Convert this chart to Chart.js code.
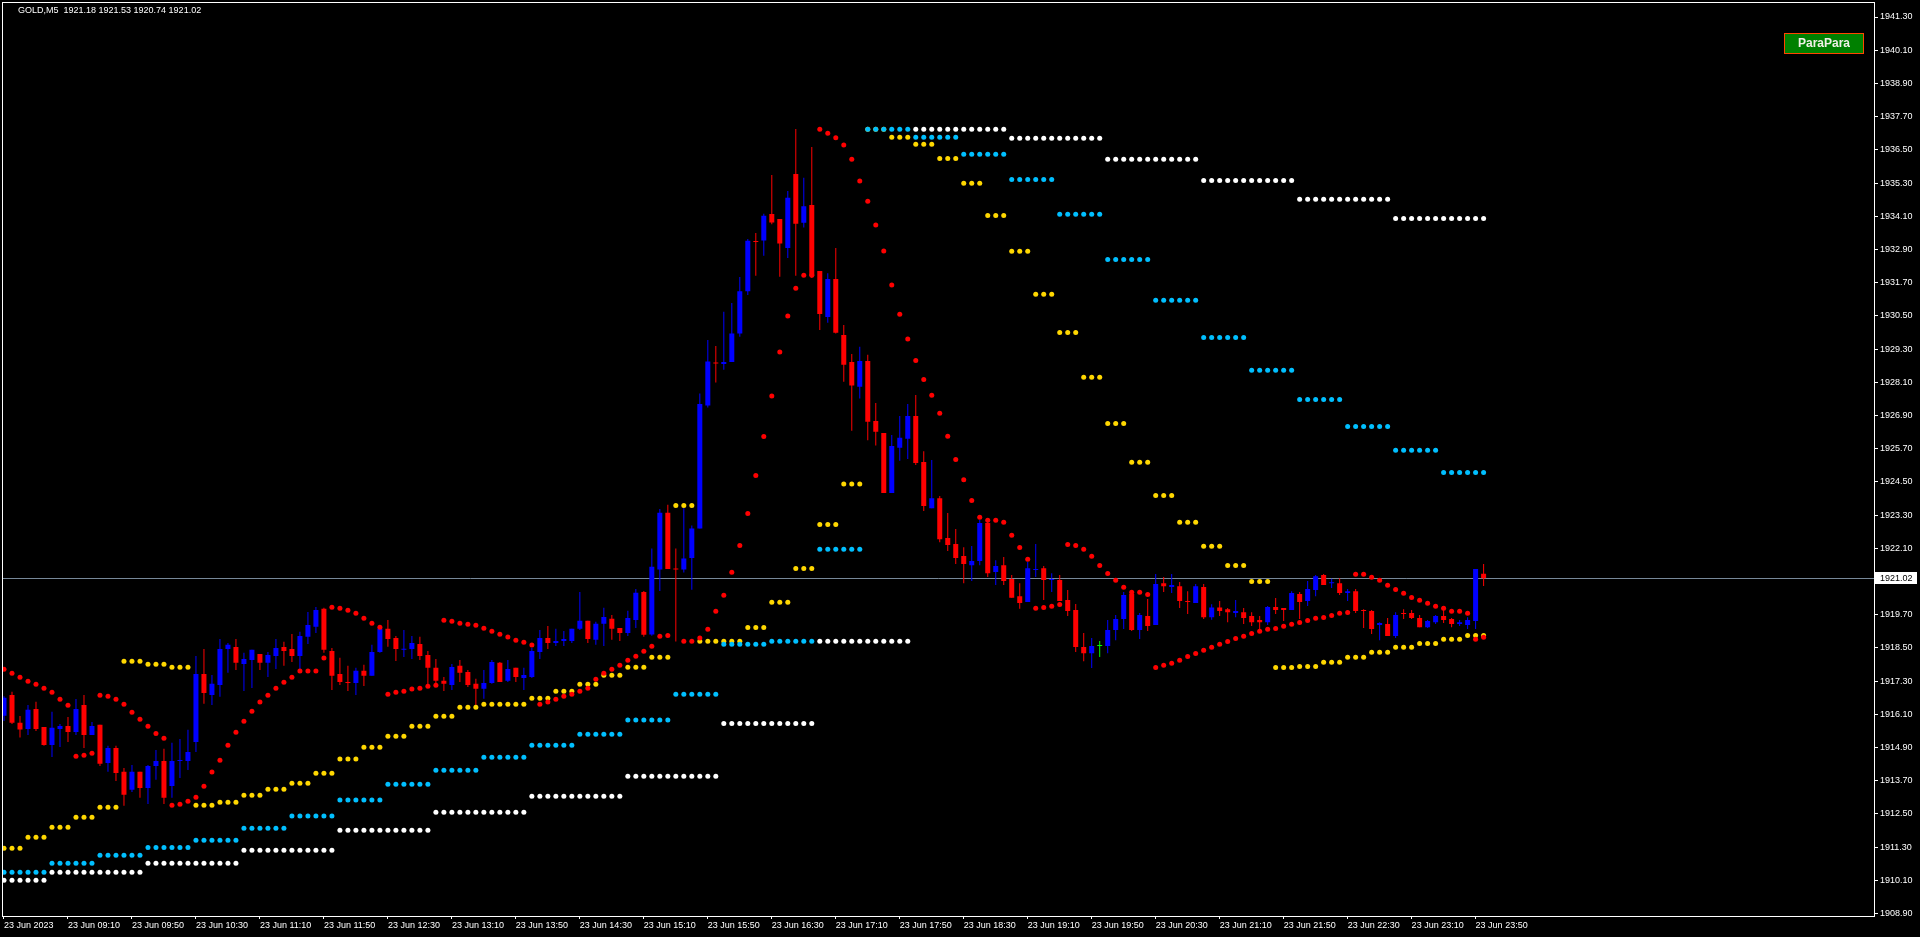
<!DOCTYPE html>
<html>
<head>
<meta charset="utf-8">
<title>GOLD,M5</title>
<script src="https://cdn.jsdelivr.net/npm/chart.js@4.4.0/dist/chart.umd.min.js"></script>
<style>
  html, body { margin: 0; padding: 0; background: #000; overflow: hidden; }
  canvas { display: block; }
</style>
</head>
<body>
<canvas id="goldChart" width="1920" height="937"></canvas>
<script>
// M5 bars from 23 Jun 08:30 to 23:55
const opens = [
  1916.05, 1916.80, 1915.79, 1915.57, 1916.29, 1915.64, 1914.99, 1915.57, 1915.68, 1915.46,
  1916.44, 1915.35, 1915.72, 1914.34, 1914.88, 1914.02, 1913.37, 1914.02, 1913.44, 1914.23,
  1914.41, 1913.51, 1914.41, 1914.41, 1915.10, 1917.56, 1916.80, 1917.16, 1918.46, 1918.53,
  1917.92, 1918.06, 1918.28, 1917.96, 1918.21, 1918.53, 1918.46, 1918.21, 1918.90, 1919.26,
  1919.91, 1918.39, 1917.56, 1917.27, 1917.23, 1917.67, 1917.49, 1918.35, 1919.19, 1918.86,
  1918.43, 1918.46, 1918.64, 1918.24, 1917.78, 1917.31, 1917.16, 1917.85, 1917.63, 1917.20,
  1917.02, 1917.23, 1917.96, 1917.31, 1917.78, 1917.41, 1917.45, 1918.35, 1918.86, 1918.68,
  1918.75, 1918.75, 1919.19, 1919.48, 1918.79, 1919.37, 1919.55, 1919.22, 1919.04, 1919.51,
  1920.52, 1918.98, 1921.33, 1923.38, 1921.36, 1921.33, 1921.75, 1922.81, 1927.26, 1928.80,
  1928.76, 1928.83, 1929.86, 1931.39, 1933.20, 1933.22, 1934.18, 1934.00, 1932.95, 1935.63,
  1933.86, 1934.51, 1932.12, 1930.46, 1931.83, 1929.81, 1928.83, 1927.94, 1928.87, 1926.70,
  1926.27, 1924.10, 1925.73, 1926.06, 1926.88, 1925.22, 1923.55, 1923.91, 1922.47, 1922.25,
  1921.82, 1921.49, 1921.64, 1923.01, 1921.24, 1921.49, 1920.99, 1920.37, 1920.16, 1921.31,
  1921.38, 1920.95, 1920.95, 1920.23, 1919.87, 1918.53, 1918.31, 1918.57, 1918.57, 1919.15,
  1919.54, 1920.45, 1919.15, 1919.65, 1919.33, 1920.84, 1920.70, 1920.73, 1920.19, 1920.12,
  1920.70, 1919.61, 1919.96, 1919.90, 1919.76, 1919.79, 1919.65, 1919.51, 1919.43, 1919.98,
  1919.94, 1919.87, 1920.45, 1920.19, 1920.59, 1921.13, 1920.84, 1920.84, 1920.48, 1920.55,
  1919.87, 1919.83, 1919.33, 1919.36, 1918.93, 1919.76, 1919.76, 1919.58, 1919.25, 1919.43,
  1919.65, 1919.54, 1919.36, 1919.33, 1919.47, 1921.18
];
const highs = [
  1916.75, 1916.91, 1916.04, 1916.44, 1916.55, 1915.64, 1916.19, 1915.75, 1916.00, 1916.65,
  1916.80, 1915.82, 1915.72, 1914.96, 1914.96, 1914.16, 1914.27, 1914.02, 1914.27, 1914.81,
  1914.85, 1915.07, 1915.21, 1915.54, 1918.21, 1918.46, 1917.52, 1918.82, 1918.68, 1918.82,
  1918.32, 1918.43, 1918.28, 1918.35, 1918.82, 1918.72, 1919.00, 1919.08, 1919.80, 1919.98,
  1919.95, 1918.50, 1918.14, 1917.85, 1917.78, 1917.89, 1918.61, 1919.26, 1919.51, 1918.93,
  1919.15, 1918.93, 1918.90, 1918.39, 1918.10, 1917.45, 1917.92, 1918.06, 1917.70, 1917.38,
  1917.70, 1918.06, 1917.99, 1918.06, 1917.78, 1917.78, 1918.50, 1919.15, 1919.29, 1919.19,
  1919.11, 1919.19, 1920.52, 1919.48, 1919.44, 1919.95, 1919.69, 1919.22, 1919.84, 1920.63,
  1920.56, 1922.09, 1923.52, 1923.67, 1922.09, 1923.57, 1922.92, 1927.69, 1929.63, 1929.41,
  1930.65, 1930.96, 1931.90, 1933.28, 1933.49, 1934.19, 1935.59, 1934.00, 1935.01, 1937.25,
  1935.49, 1936.60, 1932.12, 1932.04, 1932.95, 1930.17, 1929.12, 1929.38, 1929.09, 1927.35,
  1926.27, 1926.19, 1926.88, 1927.31, 1927.64, 1925.61, 1925.29, 1923.99, 1923.37, 1922.80,
  1922.14, 1922.18, 1923.12, 1923.08, 1921.67, 1921.78, 1921.13, 1920.84, 1921.60, 1922.25,
  1921.46, 1921.20, 1921.13, 1920.59, 1920.09, 1919.04, 1918.86, 1918.75, 1919.51, 1919.69,
  1920.52, 1920.59, 1919.76, 1920.27, 1921.17, 1921.06, 1921.17, 1920.88, 1920.55, 1920.81,
  1920.81, 1920.08, 1920.19, 1919.94, 1920.23, 1919.94, 1919.79, 1919.65, 1920.01, 1920.30,
  1919.94, 1920.55, 1920.52, 1920.92, 1921.13, 1921.17, 1921.00, 1921.02, 1920.63, 1920.63,
  1919.90, 1919.87, 1919.43, 1919.58, 1919.79, 1919.90, 1919.87, 1919.69, 1919.51, 1919.69,
  1919.87, 1919.58, 1919.51, 1919.61, 1921.35, 1921.53
];
const lows = [
  1915.86, 1915.75, 1915.26, 1915.35, 1915.50, 1914.96, 1914.56, 1914.92, 1915.10, 1915.35,
  1914.88, 1915.35, 1914.23, 1914.02, 1913.69, 1912.79, 1913.29, 1913.08, 1912.86, 1913.73,
  1912.86, 1913.08, 1913.80, 1914.09, 1914.74, 1916.48, 1916.44, 1916.73, 1917.60, 1917.70,
  1916.94, 1917.05, 1917.70, 1917.45, 1917.74, 1917.85, 1917.99, 1917.70, 1918.64, 1919.04,
  1918.32, 1916.98, 1917.16, 1916.94, 1916.80, 1917.12, 1917.49, 1918.32, 1918.54, 1918.03,
  1918.17, 1918.10, 1918.06, 1917.16, 1917.12, 1916.94, 1916.98, 1917.27, 1917.09, 1916.40,
  1916.66, 1917.20, 1917.27, 1917.27, 1917.27, 1916.98, 1917.41, 1918.10, 1918.46, 1918.57,
  1918.57, 1918.68, 1919.15, 1918.68, 1918.61, 1918.57, 1918.79, 1918.75, 1918.93, 1919.22,
  1918.90, 1918.94, 1920.56, 1921.35, 1918.73, 1921.22, 1920.60, 1922.81, 1927.19, 1928.09,
  1928.55, 1928.83, 1929.74, 1931.25, 1931.95, 1932.67, 1933.81, 1931.91, 1932.59, 1931.95,
  1933.69, 1931.87, 1929.99, 1930.25, 1929.86, 1928.12, 1926.35, 1927.51, 1926.00, 1925.81,
  1924.10, 1924.10, 1925.26, 1925.33, 1925.11, 1923.45, 1923.55, 1922.32, 1922.00, 1921.53,
  1920.84, 1920.92, 1921.49, 1921.06, 1920.77, 1920.77, 1920.31, 1919.91, 1920.16, 1921.06,
  1920.23, 1920.52, 1920.19, 1919.65, 1918.35, 1918.02, 1917.77, 1918.17, 1918.31, 1918.78,
  1919.18, 1919.11, 1918.82, 1919.11, 1919.33, 1920.52, 1920.48, 1919.94, 1919.72, 1920.12,
  1919.54, 1919.52, 1919.65, 1919.43, 1919.61, 1919.36, 1919.29, 1919.14, 1919.33, 1919.72,
  1919.47, 1919.87, 1919.54, 1920.01, 1920.37, 1920.77, 1920.66, 1920.41, 1920.19, 1919.76,
  1919.22, 1919.00, 1918.78, 1918.93, 1918.86, 1919.54, 1919.54, 1919.25, 1919.22, 1919.36,
  1919.40, 1919.25, 1919.29, 1919.18, 1919.18, 1920.74
];
const closes = [
  1916.70, 1915.79, 1915.55, 1916.26, 1915.57, 1914.99, 1915.61, 1915.68, 1915.46, 1916.29,
  1915.35, 1915.68, 1914.31, 1914.88, 1913.98, 1913.19, 1914.02, 1913.44, 1914.23, 1914.41,
  1913.08, 1914.41, 1914.45, 1914.74, 1917.56, 1916.87, 1917.20, 1918.46, 1918.61, 1917.96,
  1918.10, 1918.43, 1917.96, 1918.24, 1918.50, 1918.39, 1918.21, 1918.93, 1919.33, 1919.87,
  1918.43, 1917.49, 1917.27, 1917.23, 1917.67, 1917.49, 1918.35, 1919.19, 1918.82, 1918.46,
  1918.46, 1918.68, 1918.21, 1917.78, 1917.31, 1917.20, 1917.81, 1917.60, 1917.16, 1917.02,
  1917.23, 1917.99, 1917.27, 1917.74, 1917.45, 1917.52, 1918.39, 1918.86, 1918.68, 1918.75,
  1918.82, 1919.19, 1919.48, 1918.82, 1919.37, 1919.62, 1919.19, 1919.04, 1919.58, 1920.49,
  1918.97, 1921.43, 1923.38, 1921.35, 1921.33, 1921.73, 1922.81, 1927.31, 1928.85, 1928.78,
  1928.83, 1929.86, 1931.39, 1933.21, 1933.17, 1934.12, 1933.87, 1933.11, 1934.77, 1933.83,
  1934.46, 1931.95, 1930.57, 1931.83, 1929.89, 1928.73, 1927.98, 1928.87, 1926.67, 1926.31,
  1924.10, 1925.80, 1926.09, 1926.88, 1925.18, 1923.63, 1923.91, 1922.43, 1922.22, 1921.75,
  1921.53, 1921.64, 1923.01, 1921.20, 1921.46, 1920.92, 1920.31, 1920.12, 1921.38, 1921.35,
  1920.95, 1920.99, 1920.19, 1919.83, 1918.53, 1918.31, 1918.57, 1918.57, 1919.15, 1919.54,
  1920.41, 1919.15, 1919.69, 1919.29, 1920.81, 1920.73, 1920.77, 1920.19, 1920.16, 1920.73,
  1919.61, 1919.96, 1919.83, 1919.79, 1919.83, 1919.58, 1919.43, 1919.43, 1919.98, 1919.87,
  1919.87, 1920.48, 1920.16, 1920.63, 1921.09, 1920.77, 1920.85, 1920.48, 1920.55, 1919.83,
  1919.83, 1919.18, 1919.40, 1918.93, 1919.69, 1919.72, 1919.58, 1919.25, 1919.47, 1919.65,
  1919.51, 1919.36, 1919.43, 1919.51, 1921.35, 1921.02
];

// parabolic SAR of the chart itself (red), one dot per bar
const sarM5 = [
  1917.73, 1917.58, 1917.44, 1917.29, 1917.19, 1917.04, 1916.90, 1916.64, 1916.43, 1914.58,
  1914.62, 1914.69, 1916.79, 1916.75, 1916.64, 1916.46, 1916.17, 1915.92, 1915.67, 1915.41,
  1915.23, 1912.81, 1912.85, 1912.96, 1913.10, 1913.50, 1914.01, 1914.44, 1914.98, 1915.45,
  1915.85, 1916.21, 1916.54, 1916.79, 1917.04, 1917.26, 1917.44, 1917.66, 1917.66, 1917.66,
  1918.13, 1919.97, 1919.93, 1919.86, 1919.75, 1919.57, 1919.39, 1919.25, 1916.82, 1916.90,
  1916.93, 1917.01, 1917.04, 1917.11, 1917.15, 1919.50, 1919.46, 1919.39, 1919.35, 1919.32,
  1919.21, 1919.10, 1918.99, 1918.89, 1918.78, 1918.70, 1918.60, 1916.46, 1916.54, 1916.64,
  1916.75, 1916.82, 1916.93, 1917.04, 1917.37, 1917.58, 1917.73, 1917.87, 1918.05, 1918.20,
  1918.38, 1918.56, 1918.92, 1918.95, null, 1918.74, 1918.74, 1918.86, 1919.17, 1919.82,
  1920.40, 1921.23, 1922.20, 1923.36, 1924.73, 1926.14, 1927.60, 1929.19, 1930.49, 1931.50,
  1931.97, 1931.97, 1937.24, 1937.10, 1936.94, 1936.67, 1936.16, 1935.37, 1934.64, 1933.78,
  1932.84, 1931.61, 1930.56, 1929.66, 1928.89, 1928.20, 1927.63, 1926.98, 1926.15, 1925.31,
  1924.58, 1923.83, 1923.22, 1923.11, 1923.11, 1923.04, 1922.57, 1922.13, 1921.70, 1919.93,
  1919.96, 1920.00, 1920.07, 1922.24, 1922.20, 1922.06, 1921.81, 1921.48, 1921.19, 1920.94,
  1920.69, 1920.51, 1920.51, 1920.43, 1917.79, 1917.87, 1917.94, 1918.05, 1918.19, 1918.30,
  1918.41, 1918.52, 1918.63, 1918.73, 1918.84, 1918.92, 1919.02, 1919.10, 1919.17, 1919.20,
  1919.28, 1919.35, 1919.42, 1919.49, 1919.57, 1919.60, 1919.67, 1919.75, 1919.78, 1921.16,
  1921.16, 1921.05, 1920.94, 1920.76, 1920.61, 1920.47, 1920.32, 1920.22, 1920.11, 1920.00,
  1919.93, 1919.82, 1919.82, 1919.75, 1918.81, 1918.88
];

// higher timeframe SAR levels: one value per M15 bar (3 bars), M30 bar (6 bars), H1 bar
const sarM15 = [
  1911.26, 1911.66, 1912.02, 1912.38, 1912.74, 1918.02, 1917.91, 1917.80, 1912.81, 1912.92,
  1913.17, 1913.39, 1913.61, 1913.97, 1914.48, 1914.91, 1915.31, 1915.67, 1916.03, 1916.35,
  1916.46, 1916.46, 1916.68, 1916.93, 1917.19, 1917.51, 1917.80, 1918.16, 1923.65, 1918.74,
  1918.74, 1919.24, 1920.15, 1921.37, 1922.96, 1924.42, 1937.24, 1936.95, 1936.70, 1936.19,
  1935.29, 1934.13, 1932.83, 1931.28, 1929.90, 1928.28, 1926.61, 1925.21, 1924.01, 1923.04,
  1922.17, 1921.48, 1920.90, 1917.79, 1917.83, 1917.98, 1918.16, 1918.34, 1918.52, 1918.66,
  1918.81, 1918.95
];
const sarM30 = [
  1910.39, 1910.72, 1911.01, 1911.29, 1911.55, 1911.98, 1912.42, 1913.00, 1913.57, 1914.08,
  1914.55, 1914.98, 1915.38, 1915.89, 1916.82, 1918.63, 1918.74, 1922.06, 1937.24, 1936.95,
  1936.34, 1935.43, 1934.17, 1932.54, 1931.06, 1929.72, 1928.53, 1927.48, 1926.50, 1925.64,
  1924.84
];
const sarH1 = [
  1910.10, 1910.39, 1910.72, 1911.19, 1911.91, 1912.56, 1913.14, 1913.86, 1915.77, 1918.74,
  1937.24, 1936.92, 1936.16, 1935.39, 1934.71, 1934.02
];

// labelled every 8th bar
const timeLabels = [
  '23 Jun 2023', '23 Jun 09:10', '23 Jun 09:50', '23 Jun 10:30', '23 Jun 11:10', '23 Jun 11:50',
  '23 Jun 12:30', '23 Jun 13:10', '23 Jun 13:50', '23 Jun 14:30', '23 Jun 15:10', '23 Jun 15:50',
  '23 Jun 16:30', '23 Jun 17:10', '23 Jun 17:50', '23 Jun 18:30', '23 Jun 19:10', '23 Jun 19:50',
  '23 Jun 20:30', '23 Jun 21:10', '23 Jun 21:50', '23 Jun 22:30', '23 Jun 23:10', '23 Jun 23:50'
];
const priceTicks = [
  1908.90, 1910.10, 1911.30, 1912.50, 1913.70, 1914.90, 1916.10, 1917.30, 1918.50, 1919.70,
  1922.10, 1923.30, 1924.50, 1925.70, 1926.90, 1928.10, 1929.30, 1930.50, 1931.70, 1932.90,
  1934.10, 1935.30, 1936.50, 1937.70, 1938.90, 1940.10, 1941.30
];
const lastPrice = 1921.02;
const headerText = 'GOLD,M5  1921.18 1921.53 1920.74 1921.02';

const barColor = closes.map((c, i) => c > opens[i] ? '#0000ff' : (c < opens[i] ? '#ff0000' : '#00ff00'));
const wicks = lows.map((l, i) => ({ x: i, y: [l, highs[i]] }));
const bodies = opens.map((o, i) => ({ x: i, y: [o, closes[i]] }));

const dots = (vals) => vals.map((v, i) => ({ x: i, y: v }));
const yellowDots = opens.map((o, i) => ({ x: i, y: sarM15[Math.floor(i / 3)] }));
const cyanDots = opens.map((o, i) => ({ x: i, y: sarM30[Math.floor(i / 6)] }));
const whiteDots = opens.map((o, i) => ({ x: i, y: sarH1[i < 6 ? 0 : 1 + Math.floor((i - 6) / 12)] }));

function dotSet(data, color, order) {
  return {
    type: 'line', data: data, showLine: false, order: order,
    pointRadius: 2.5, pointHoverRadius: 2.5, pointBorderWidth: 0,
    pointBackgroundColor: color, pointBorderColor: color
  };
}

const font = { family: 'Liberation Sans', size: 9 };

const mtDecor = {
  id: 'mtDecor',
  beforeDraw(chart) {
    const c = chart.ctx;
    c.save();
    c.fillStyle = '#000';
    c.fillRect(0, 0, chart.width, chart.height);
    c.restore();
  },
  beforeDatasetsDraw(chart) {
    const c = chart.ctx, a = chart.chartArea;
    const y = Math.round(chart.scales.y.getPixelForValue(lastPrice)) + 0.5;
    c.save();
    c.strokeStyle = '#778899';
    c.lineWidth = 1;
    c.beginPath();
    c.moveTo(a.left, y);
    c.lineTo(a.right, y);
    c.stroke();
    c.restore();
  },
  afterDraw(chart) {
    const c = chart.ctx, a = chart.chartArea;
    c.save();
    // frame
    c.strokeStyle = '#fff';
    c.lineWidth = 1;
    c.strokeRect(2.5, 2.5, a.right - 2, a.bottom - 2);

    c.font = '9px "Liberation Sans"';
    c.fillStyle = '#fff';
    c.textBaseline = 'middle';
    c.textAlign = 'left';
    c.fillText(headerText, 18, 11);

    // last price tag on the axis
    const y = Math.round(chart.scales.y.getPixelForValue(lastPrice));
    c.fillStyle = '#fff';
    c.fillRect(a.right + 1, y - 6, 42, 12);
    c.fillStyle = '#000';
    c.fillText(lastPrice.toFixed(2), a.right + 6, y + 0.5);

    // ParaPara button
    c.fillStyle = '#008000';
    c.fillRect(1784, 33, 80, 21);
    c.strokeStyle = '#ff4500';
    c.strokeRect(1784.5, 33.5, 79, 20);
    c.font = 'bold 12px "Liberation Sans"';
    c.fillStyle = '#f0f0e6';
    c.textAlign = 'center';
    c.fillText('ParaPara', 1824, 44);
    c.restore();
  }
};

const ctx = document.getElementById('goldChart').getContext('2d');
const goldChart = new Chart(ctx, {
  type: 'bar',
  data: {
    datasets: [
      { type: 'bar', data: wicks, backgroundColor: barColor, barThickness: 1, grouped: false,
        inflateAmount: 0, borderWidth: 0, order: 10 },
      { type: 'bar', data: bodies, backgroundColor: barColor, barThickness: 5, grouped: false,
        inflateAmount: 0, borderWidth: 0, minBarLength: 1, order: 9 },
      dotSet(whiteDots, '#ffffff', 8),
      dotSet(yellowDots, '#ffd700', 7),
      dotSet(cyanDots, '#00bfff', 6),
      dotSet(dots(sarM5), '#ff0000', 5)
    ]
  },
  options: {
    responsive: false,
    devicePixelRatio: 1,
    animation: false,
    events: [],
    layout: { padding: { left: 2, top: 3, right: 0, bottom: 0 } },
    plugins: {
      legend: { display: false },
      tooltip: { enabled: false },
      title: { display: false }
    },
    scales: {
      x: {
        type: 'linear',
        offset: false,
        min: -0.1875,
        max: 233.8125,
        afterBuildTicks: (s) => { s.ticks = timeLabels.map((t, k) => ({ value: k * 8 })); },
        afterFit: (s) => { s.height = 21; s.paddingLeft = 0; s.paddingRight = 0; },
        ticks: {
          autoSkip: false, maxRotation: 0, minRotation: 0, align: 'start', padding: 1,
          color: '#fff', font: font,
          callback: (v) => timeLabels[Math.round(v / 8)]
        },
        grid: { offset: false, drawOnChartArea: false, tickLength: 3, color: '#fff' },
        border: { display: false }
      },
      y: {
        position: 'right',
        min: 1908.81,
        max: 1941.806,
        afterBuildTicks: (s) => { s.ticks = priceTicks.map(v => ({ value: v })); },
        afterFit: (s) => { s.width = 46; s.paddingTop = 0; s.paddingBottom = 0; },
        ticks: {
          padding: 2, color: '#fff', font: font,
          callback: (v) => v.toFixed(2)
        },
        grid: { drawOnChartArea: false, tickLength: 4, color: '#fff' },
        border: { display: false }
      }
    }
  },
  plugins: [mtDecor]
});
</script>
</body>
</html>
